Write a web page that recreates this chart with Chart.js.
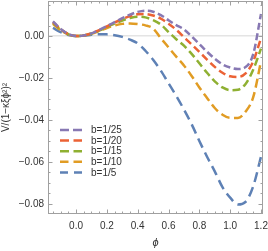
<!DOCTYPE html>
<html><head><meta charset="utf-8">
<script src="https://cdn.jsdelivr.net/npm/chart.js@4/dist/chart.umd.min.js"></script>
<style>html,body{margin:0;padding:0;background:#fff;overflow:hidden}#wrap{width:268px;height:251px}</style>
</head><body><div id="wrap"><canvas id="c" width="268" height="251"></canvas></div>
<script>
const phi = [-0.15,-0.10,-0.05,0.00,0.05,0.10,0.15,0.20,0.25,0.30,0.35,0.40,0.45,0.50,0.55,0.60,0.65,0.70,0.75,0.80,0.85,0.90,0.95,1.00,1.05,1.10,1.15,1.20];
const b25 = [0.0070,0.0034,0.0010,0,0.0003,0.0013,0.0029,0.0047,0.0066,0.0085,0.0102,0.0115,0.0121,0.0116,0.0100,0.0075,0.0052,0.0032,-0.0002,-0.0038,-0.0075,-0.0108,-0.0135,-0.0150,-0.0157,-0.0148,-0.0085,0.0105];
const b20 = [0.0067,0.0033,0.0009,0,0.0003,0.0013,0.0028,0.0046,0.0064,0.0081,0.0095,0.0104,0.0105,0.0098,0.0083,0.0059,0.0030,-0.0005,-0.0040,-0.0076,-0.0112,-0.0147,-0.0175,-0.0192,-0.0195,-0.0178,-0.0120,-0.0010];
const b15 = [0.0063,0.0031,0.0009,0,0.0003,0.0012,0.0026,0.0043,0.0059,0.0074,0.0086,0.0092,0.0089,0.0076,0.0055,0.0019,-0.0015,-0.0046,-0.0085,-0.0130,-0.0175,-0.0216,-0.0245,-0.0258,-0.0256,-0.0228,-0.0160,-0.0060];
const b10 = [0.0058,0.0028,0.0008,0,0.0003,0.0011,0.0024,0.0038,0.0050,0.0058,0.0060,0.0057,0.0051,0.0036,-0.0010,-0.0054,-0.0098,-0.0140,-0.0190,-0.0245,-0.0295,-0.0343,-0.0375,-0.0390,-0.0390,-0.0360,-0.0290,-0.0120];
const b5  = [0.0039,0.0019,0.0005,0,0.0002,0.0006,0.0009,0.0008,0.0004,-0.0004,-0.0017,-0.0035,-0.0070,-0.0113,-0.0165,-0.0225,-0.0285,-0.0350,-0.0420,-0.0500,-0.0575,-0.0645,-0.0720,-0.0770,-0.0803,-0.0790,-0.0715,-0.0575];
const seriesLabels = ['b=1/25','b=1/20','b=1/15','b=1/10','b=1/5'];
const seriesValues = [b25,b20,b15,b10,b5];
const seriesColors = ['#8778b3','#eb6235','#8fb032','#e19c24','#5e81b5'];
const seriesDash = [[7,3.5],[7.5,4],[8,4],[9,4.5],[10,5.5]];
const legendDash = [[9,4],[9,4.5],[9,4.5],[8.5,5],[8,6]];
const xTicks = [0,0.2,0.4,0.6,0.8,1.0,1.2];
const yTicks = [0,-0.02,-0.04,-0.06,-0.08];
const xTitle = 'ϕ';
const yTitle = 'V/(1−κξϕ²)²';

const FONT = '"Liberation Sans", Arial, sans-serif';
const TXT = '#333';
const FRAME = '#a0a0a0';

const datasets = seriesLabels.map((lab,i)=>({
  label: lab,
  data: phi.map((x,j)=>({x:x,y:seriesValues[i][j]})),
  borderColor: seriesColors[i],
  borderDash: seriesDash[i],
  borderWidth: 2.5,
  pointRadius: 0,
  fill: false,
  cubicInterpolationMode: 'monotone'
}));

const framePlugin = {
  id: 'frame',
  afterDatasetsDraw(chart){
    const ctx = chart.ctx, a = chart.chartArea;
    const xs = chart.scales.x, ys = chart.scales.y;
    ctx.save();
    ctx.strokeStyle = FRAME; ctx.lineWidth = 1; ctx.setLineDash([]);
    ctx.strokeRect(a.left+0.5, a.top+0.5, a.right-a.left-1, a.bottom-a.top-1);
    ctx.beginPath();
    const minor = 2.5, major = 4.5;
    for (let k=-4; k<=25; k++){
      const v = k*0.05; if (v < xs.min || v > xs.max) continue;
      const p = Math.round(xs.getPixelForValue(v))+0.5;
      const L = (k%4===0)?major:minor;
      ctx.moveTo(p,a.bottom); ctx.lineTo(p,a.bottom-L);
      ctx.moveTo(p,a.top); ctx.lineTo(p,a.top+L);
    }
    for (let k=-17; k<=4; k++){
      const v = k*0.005; if (v < ys.min || v > ys.max) continue;
      const p = Math.round(ys.getPixelForValue(v))+0.5;
      const L = (k%4===0)?major:minor;
      ctx.moveTo(a.left,p); ctx.lineTo(a.left+L,p);
      ctx.moveTo(a.right,p); ctx.lineTo(a.right-L,p);
    }
    ctx.stroke();
    // legend
    ctx.font = '10px ' + FONT; ctx.fillStyle = TXT; ctx.textBaseline = 'middle'; ctx.textAlign='left';
    chart.data.datasets.forEach((ds,i)=>{
      const y = a.top + 129 + i*10.6;
      ctx.beginPath();
      ctx.strokeStyle = ds.borderColor; ctx.lineWidth = 2.5; ctx.lineCap = 'butt';
      ctx.setLineDash(legendDash[i]); ctx.lineDashOffset = 0;
      ctx.moveTo(a.left+12, y); ctx.lineTo(a.left+34, y); ctx.stroke();
      ctx.setLineDash([]);
      ctx.fillText(ds.label, a.left+43, y+0.5);
    });
    ctx.restore();
  }
};

new Chart(document.getElementById('c'), {
  type: 'line',
  data: { datasets },
  options: {
    responsive: false, animation: false, devicePixelRatio: 1,
    layout: { padding: { top: 1, right: 5, left: 0, bottom: 0 } },
    plugins: { legend: { display: false }, tooltip: { enabled: false } },
    scales: {
      x: {
        type: 'linear', min: -0.182, max: 1.213,
        afterBuildTicks(s){ s.ticks = xTicks.map(v=>({value:v})); },
        afterFit(s){ s.height = 37; s.paddingLeft = 0; s.paddingRight = 0; },
        grid: { display: false, drawTicks: false },
        border: { display: false },
        ticks: { padding: 6, color: TXT, font: { size: 10, family: FONT }, maxRotation: 0, autoSkip: false,
                 callback: v => v.toFixed(1) },
        title: { display: true, text: xTitle, color: TXT, font: { size: 11, family: FONT, style: 'italic' }, padding: { top: 0, bottom: 1 } }
      },
      y: {
        type: 'linear', min: -0.0848, max: 0.0167,
        afterBuildTicks(s){ s.ticks = yTicks.map(v=>({value:v})); },
        afterFit(s){ s.width = 48; s.paddingTop = 0; s.paddingBottom = 0; },
        grid: { drawTicks: false, color: c => (c.tick && Math.abs(c.tick.value) < 1e-9) ? '#e4e4e4' : 'rgba(0,0,0,0)', lineWidth: 1.5 },
        border: { display: false },
        ticks: { padding: 4, color: TXT, font: { size: 10, family: FONT }, autoSkip: false,
                 callback: v => (v < -1e-9 ? '−' : '') + Math.abs(v).toFixed(2) },
        title: { display: true, text: yTitle, color: TXT, font: { size: 10, family: FONT }, padding: { top: 0, bottom: 2 } }
      }
    }
  },
  plugins: [framePlugin]
});
</script>
</body></html>
